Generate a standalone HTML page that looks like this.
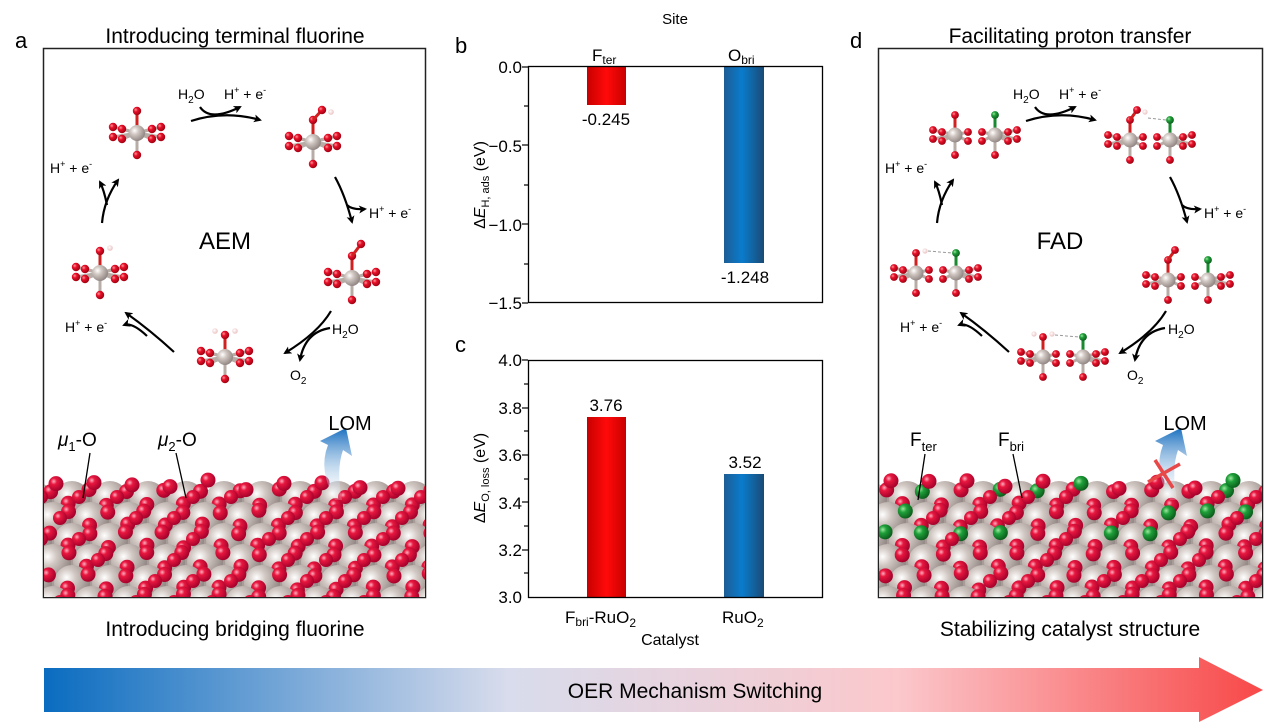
<!DOCTYPE html>
<html><head><meta charset="utf-8">
<style>
html,body{margin:0;padding:0;background:#fff;}
body{width:1268px;height:723px;overflow:hidden;font-family:"Liberation Sans",Arial,sans-serif;}
svg text{font-family:"Liberation Sans",Arial,sans-serif;}
</style></head>
<body>
<svg id="s" width="1268" height="723" viewBox="0 0 1268 723" xmlns="http://www.w3.org/2000/svg">
<defs>
<radialGradient id="gRu" cx="0.35" cy="0.35" r="0.7"><stop offset="0" stop-color="#fff"/><stop offset="0.35" stop-color="#d2c8c3"/><stop offset="1" stop-color="#8e8380"/></radialGradient>
<radialGradient id="gO" cx="0.35" cy="0.35" r="0.7"><stop offset="0" stop-color="#ff9a9a"/><stop offset="0.35" stop-color="#e8102a"/><stop offset="1" stop-color="#9a0010"/></radialGradient>
<radialGradient id="gOs" cx="0.35" cy="0.35" r="0.7"><stop offset="0" stop-color="#ffb0c0"/><stop offset="0.3" stop-color="#e8173f"/><stop offset="1" stop-color="#a0002a"/></radialGradient>
<radialGradient id="gF" cx="0.35" cy="0.35" r="0.7"><stop offset="0" stop-color="#9fe8a0"/><stop offset="0.35" stop-color="#1fa03a"/><stop offset="1" stop-color="#0a5a1a"/></radialGradient>
<radialGradient id="gH" cx="0.4" cy="0.4" r="0.7"><stop offset="0" stop-color="#fff"/><stop offset="1" stop-color="#e8b8b8"/></radialGradient>
<linearGradient id="gRed" x1="0" x2="1"><stop offset="0" stop-color="#c80000"/><stop offset="0.5" stop-color="#ff0a0a"/><stop offset="1" stop-color="#c80000"/></linearGradient>
<linearGradient id="gBlue" x1="0" x2="1"><stop offset="0" stop-color="#1d5d95"/><stop offset="0.45" stop-color="#0a7ccc"/><stop offset="1" stop-color="#1a4a75"/></linearGradient>
<linearGradient id="gArr" x1="0" x2="1"><stop offset="0" stop-color="#0a6cc0"/><stop offset="0.38" stop-color="#d8dcec"/><stop offset="0.7" stop-color="#fbc8cc"/><stop offset="1" stop-color="#f84848"/></linearGradient>
<linearGradient id="gLom" x1="0" y1="1" x2="0" y2="0"><stop offset="0" stop-color="#fff" stop-opacity="0.2"/><stop offset="1" stop-color="#1a70c0"/></linearGradient>
<marker id="ah" markerWidth="8" markerHeight="8" refX="6" refY="4" orient="auto" markerUnits="userSpaceOnUse"><path d="M0,0 L8,4 L0,8 L2,4z" fill="#000"/></marker>
<clipPath id="cA"><rect x="44" y="460" width="381" height="137"/></clipPath>
<clipPath id="cD"><rect x="879" y="460" width="383" height="137"/></clipPath>
</defs>

<text x="15" y="48" font-size="22">a</text>
<text x="235" y="43" font-size="21" text-anchor="middle">Introducing terminal fluorine</text>
<text x="850" y="48" font-size="22">d</text>
<text x="1070" y="43" font-size="21" text-anchor="middle">Facilitating proton transfer</text>
<text x="675" y="24" font-size="15" text-anchor="middle">Site</text>
<text x="455" y="53" font-size="22">b</text>
<text x="455" y="352" font-size="22">c</text>

<rect x="43.5" y="48.5" width="382" height="549" fill="none" stroke="#222" stroke-width="1.5"/>
<rect x="878.5" y="48.5" width="384" height="549" fill="none" stroke="#222" stroke-width="1.5"/>

<g id="surfA" clip-path="url(#cA)"></g>
<g id="surfD" clip-path="url(#cD)"></g>
<g id="mols"></g>

<g font-size="14">
<text x="178" y="99">H<tspan font-size="10" dy="4">2</tspan><tspan dy="-4">O</tspan></text>
<text x="224" y="99">H<tspan font-size="9" dy="-6">+</tspan><tspan dy="6"> + e</tspan><tspan font-size="9" dy="-6">-</tspan></text>
<text x="50" y="173">H<tspan font-size="9" dy="-6">+</tspan><tspan dy="6"> + e</tspan><tspan font-size="9" dy="-6">-</tspan></text>
<text x="369" y="218">H<tspan font-size="9" dy="-6">+</tspan><tspan dy="6"> + e</tspan><tspan font-size="9" dy="-6">-</tspan></text>
<text x="65" y="332">H<tspan font-size="9" dy="-6">+</tspan><tspan dy="6"> + e</tspan><tspan font-size="9" dy="-6">-</tspan></text>
<text x="332" y="334">H<tspan font-size="10" dy="4">2</tspan><tspan dy="-4">O</tspan></text>
<text x="290" y="380">O<tspan font-size="10" dy="4">2</tspan></text>
</g>
<text x="225" y="249" font-size="24" text-anchor="middle">AEM</text>

<g font-size="14">
<text x="1013" y="99">H<tspan font-size="10" dy="4">2</tspan><tspan dy="-4">O</tspan></text>
<text x="1059" y="99">H<tspan font-size="9" dy="-6">+</tspan><tspan dy="6"> + e</tspan><tspan font-size="9" dy="-6">-</tspan></text>
<text x="885" y="173">H<tspan font-size="9" dy="-6">+</tspan><tspan dy="6"> + e</tspan><tspan font-size="9" dy="-6">-</tspan></text>
<text x="1204" y="218">H<tspan font-size="9" dy="-6">+</tspan><tspan dy="6"> + e</tspan><tspan font-size="9" dy="-6">-</tspan></text>
<text x="900" y="332">H<tspan font-size="9" dy="-6">+</tspan><tspan dy="6"> + e</tspan><tspan font-size="9" dy="-6">-</tspan></text>
<text x="1168" y="334">H<tspan font-size="10" dy="4">2</tspan><tspan dy="-4">O</tspan></text>
<text x="1127" y="380">O<tspan font-size="10" dy="4">2</tspan></text>
</g>
<text x="1060" y="249" font-size="24" text-anchor="middle">FAD</text>

<g fill="none" stroke="#000" stroke-width="2.2">
<path d="M191,121 Q225,110 260,120" marker-end="url(#ah)"/>
<path d="M200,107 Q210,122 240,107" marker-end="url(#ah)"/>
<path d="M335,177 Q345,195 352,222" marker-end="url(#ah)"/>
<path d="M347,205 Q352,210 365,209" marker-end="url(#ah)"/>
<path d="M331,311 Q318,333 285,353" marker-end="url(#ah)"/>
<path d="M330,328 Q305,332 300,360" marker-end="url(#ah)"/>
<path d="M174,352 Q150,330 126,313" marker-end="url(#ah)"/>
<path d="M147,336 Q132,322 124,325" marker-end="url(#ah)"/>
<path d="M102,223 Q104,200 118,180" marker-end="url(#ah)"/>
<path d="M107,205 Q104,190 100,182" marker-end="url(#ah)"/>
</g>
<g fill="none" stroke="#000" stroke-width="2.2">
<path d="M1026,121 Q1060,110 1095,120" marker-end="url(#ah)"/>
<path d="M1035,107 Q1045,122 1075,107" marker-end="url(#ah)"/>
<path d="M1170,177 Q1180,195 1187,222" marker-end="url(#ah)"/>
<path d="M1182,205 Q1187,210 1200,209" marker-end="url(#ah)"/>
<path d="M1166,311 Q1153,333 1120,353" marker-end="url(#ah)"/>
<path d="M1165,328 Q1140,332 1135,360" marker-end="url(#ah)"/>
<path d="M1009,352 Q985,330 961,313" marker-end="url(#ah)"/>
<path d="M982,336 Q967,322 959,325" marker-end="url(#ah)"/>
<path d="M937,223 Q939,200 953,180" marker-end="url(#ah)"/>
<path d="M942,205 Q939,190 935,182" marker-end="url(#ah)"/>
</g>

<g id="over">
<path d="M335,500 Q318,470 328,445 L320,441 L346,428 L352,456 L343,450 Q336,470 342,500z" fill="url(#gLom)"/>
<text x="350" y="430" font-size="20" text-anchor="middle">LOM</text>
<path d="M1170,500 Q1153,470 1163,445 L1155,441 L1181,428 L1187,456 L1178,450 Q1171,470 1177,500z" fill="url(#gLom)"/>
<text x="1185" y="430" font-size="20" text-anchor="middle">LOM</text>
<g stroke="#e84848" stroke-width="3.5"><line x1="1155" y1="460" x2="1173" y2="488"/><line x1="1148" y1="482" x2="1180" y2="464"/></g>
</g>

<g font-size="19">
<text x="58" y="446"><tspan font-style="italic">μ</tspan><tspan font-size="13" dy="5">1</tspan><tspan dy="-5">-O</tspan></text>
<text x="158" y="446"><tspan font-style="italic">μ</tspan><tspan font-size="13" dy="5">2</tspan><tspan dy="-5">-O</tspan></text>
<text x="910" y="446">F<tspan font-size="13" dy="5">ter</tspan></text>
<text x="998" y="446">F<tspan font-size="13" dy="5">bri</tspan></text>
</g>
<g stroke="#000" stroke-width="1.3">
<line x1="90" y1="453" x2="83" y2="498"/><line x1="176" y1="453" x2="186" y2="498"/>
<line x1="925" y1="454" x2="918" y2="500"/><line x1="1013" y1="454" x2="1022" y2="498"/>
</g>

<rect x="587" y="67" width="39" height="38" fill="url(#gRed)"/>
<rect x="724" y="67" width="40" height="196" fill="url(#gBlue)"/>
<rect x="528.5" y="66.5" width="294" height="236" fill="none" stroke="#000" stroke-width="1.3"/>
<g font-size="17" text-anchor="end">
<text x="522" y="73">0.0</text><text x="522" y="152">−0.5</text><text x="522" y="231">−1.0</text><text x="522" y="309">−1.5</text>
</g>
<g stroke="#000" stroke-width="1.2"><line x1="522" y1="67" x2="528" y2="67"/><line x1="522" y1="145" x2="528" y2="145"/><line x1="522" y1="224" x2="528" y2="224"/><line x1="522" y1="303" x2="528" y2="303"/><line x1="524" y1="106" x2="528" y2="106"/><line x1="524" y1="185" x2="528" y2="185"/><line x1="524" y1="264" x2="528" y2="264"/></g>
<text x="606" y="125" font-size="17" text-anchor="middle">-0.245</text>
<text x="745" y="283" font-size="17" text-anchor="middle">-1.248</text>
<text x="592" y="61" font-size="17">F<tspan font-size="12" dy="3">ter</tspan></text>
<text x="728" y="61" font-size="17">O<tspan font-size="12" dy="3">bri</tspan></text>
<text transform="translate(485,185) rotate(-90)" font-size="16" text-anchor="middle">Δ<tspan font-style="italic">E</tspan><tspan font-size="11" dy="4">H, ads</tspan><tspan dy="-4"> (eV)</tspan></text>

<rect x="587" y="417" width="39" height="180" fill="url(#gRed)"/>
<rect x="724" y="474" width="40" height="123" fill="url(#gBlue)"/>
<rect x="528.5" y="360.5" width="294" height="237" fill="none" stroke="#000" stroke-width="1.3"/>
<g font-size="17" text-anchor="end">
<text x="522" y="366">4.0</text><text x="522" y="414">3.8</text><text x="522" y="461">3.6</text><text x="522" y="509">3.4</text><text x="522" y="556">3.2</text><text x="522" y="603">3.0</text>
</g>
<g stroke="#000" stroke-width="1.2"><line x1="522" y1="360" x2="528" y2="360"/><line x1="522" y1="408" x2="528" y2="408"/><line x1="522" y1="455" x2="528" y2="455"/><line x1="522" y1="502" x2="528" y2="502"/><line x1="522" y1="550" x2="528" y2="550"/><line x1="524" y1="384" x2="528" y2="384"/><line x1="524" y1="431" x2="528" y2="431"/><line x1="524" y1="479" x2="528" y2="479"/><line x1="524" y1="526" x2="528" y2="526"/><line x1="524" y1="573" x2="528" y2="573"/></g>
<text x="606" y="411" font-size="17" text-anchor="middle">3.76</text>
<text x="745" y="468" font-size="17" text-anchor="middle">3.52</text>
<text x="565" y="623" font-size="17">F<tspan font-size="12" dy="3">bri</tspan><tspan dy="-3">-RuO</tspan><tspan font-size="12" dy="4">2</tspan></text>
<text x="722" y="623" font-size="17">RuO<tspan font-size="12" dy="4">2</tspan></text>
<text x="670" y="645" font-size="16" text-anchor="middle">Catalyst</text>
<text transform="translate(485,478) rotate(-90)" font-size="16" text-anchor="middle">Δ<tspan font-style="italic">E</tspan><tspan font-size="11" dy="4">O, loss</tspan><tspan dy="-4"> (eV)</tspan></text>

<text x="235" y="636" font-size="21" text-anchor="middle">Introducing bridging fluorine</text>
<text x="1070" y="636" font-size="21" text-anchor="middle">Stabilizing catalyst structure</text>

<path d="M44,668 L1199,668 L1199,657 L1263,690 L1199,722 L1199,712 L44,712z" fill="url(#gArr)"/>
<text x="695" y="698" font-size="21" text-anchor="middle">OER Mechanism Switching</text>
</svg>
<script>
var NS="http://www.w3.org/2000/svg";
function el(p,t,a){var e=document.createElementNS(NS,t);for(var k in a)e.setAttribute(k,a[k]);p.appendChild(e);return e;}
var M=document.getElementById("mols");
function bond(x1,y1,x2,y2,c){el(M,"line",{x1:x1,y1:y1,x2:x2,y2:y2,stroke:c||"#b8aca6","stroke-width":3});}
function at(x,y,r,f){el(M,"circle",{cx:x,cy:y,r:r,fill:"url(#"+f+")"});}
var RO=4.2,RR=8;
function single(x,y,ads){
  var Os=[[0,22],[-24,-6],[-24,4],[-15,-4],[-15,6],[24,-6],[24,4],[15,-4],[15,6]];
  Os.forEach(function(o){bond(x,y,x+o[0],y+o[1]);});
  bond(x,y,x,y-22,"#d02020");
  at(x,y,RR,"gRu");
  Os.forEach(function(o){at(x+o[0],y+o[1],RO,"gO");});
  at(x,y-22,RO,"gO");
  if(ads=="OOH"){bond(x,y-22,x+9,y-32,"#d02020");at(x+9,y-32,RO,"gO");at(x+18,y-30,2.8,"gH");}
  if(ads=="OO"){bond(x,y-22,x+9,y-34,"#d02020");at(x+9,y-34,RO,"gO");}
  if(ads=="OH"){at(x+10,y-25,2.8,"gH");}
  if(ads=="H2O"){at(x-10,y-26,2.8,"gH");at(x+10,y-26,2.8,"gH");}
}
single(137,133,"");
single(313,142,"OOH");
single(352,278,"OO");
single(225,357,"H2O");
single(100,273,"OH");
function dbl(x,y,ads,Fdash){
  var x2=x+40;
  [x,x2].forEach(function(cx,i){
    var Os=[[0,20]];
    if(i==0){Os.push([-22,-5],[-22,4],[-13,-3],[-13,6],[13,-3],[13,6]);}
    else{Os.push([22,-5],[22,4],[13,-3],[13,6],[-13,-3],[-13,6]);}
    Os.forEach(function(o){bond(cx,y,cx+o[0],y+o[1]);});
    bond(cx,y,cx,y-20,i==0?"#d02020":"#1a8a30");
    at(cx,y,7.5,"gRu");
    Os.forEach(function(o){at(cx+o[0],y+o[1],3.9,"gO");});
    at(cx,y-20,3.9,i==0?"gO":"gF");
  });
  if(ads=="OOH"){bond(x,y-20,x+7,y-30,"#d02020");at(x+7,y-30,3.9,"gO");at(x+15,y-28,2.6,"gH");}
  if(ads=="OO"){bond(x,y-20,x+7,y-30,"#d02020");at(x+7,y-30,3.9,"gO");}
  if(ads=="OH"){at(x+9,y-22,2.6,"gH");}
  if(ads=="H2O"){at(x-9,y-23,2.6,"gH");at(x+9,y-23,2.6,"gH");}
  if(Fdash){el(M,"line",{x1:Fdash,y1:y-22,x2:x2-4,y2:y-20,stroke:"#999","stroke-width":1,"stroke-dasharray":"3,2"});}
}
dbl(955,135,"");
dbl(1130,140,"OOH",1148);
dbl(1168,280,"OO");
dbl(1043,357,"H2O",1055);
dbl(916,273,"OH",928);
function surf(id,x0,x1,green){
  var g=document.getElementById(id);
  var seed=11;function rnd(){seed=(seed*9301+49297)%233280;return seed/233280;}
  el(g,"rect",{x:x0,y:490,width:x1-x0,height:110,fill:"#a89c98"});
  for(var row=0;row<6;row++){
    var y=495+row*21;
    for(var x=x0-10+(row%2)*19;x<x1+20;x+=38){
      el(g,"circle",{cx:x,cy:y+4,r:18,fill:"url(#gRu)"});
    }
    for(var x=x0+6+(row%2)*19;x<x1+20;x+=38){
      var f="gOs";
      if(green && row<3 && rnd()<0.45) f="gF";
      el(g,"circle",{cx:x+rnd()*4-2,cy:y-6+rnd()*3,r:7.5,fill:"url(#"+f+")"});
      el(g,"circle",{cx:x+19+rnd()*4-2,cy:y+8+rnd()*3,r:7.5,fill:"url(#gOs)"});
      if(rnd()<0.5) el(g,"circle",{cx:x-9,cy:y+2,r:7,fill:"url(#gOs)"});
    }
  }
  for(var x=x0+12;x<x1;x+=38){
    el(g,"circle",{cx:x,cy:480+rnd()*10,r:7.5,fill:"url(#"+(green&&rnd()<0.5?"gF":"gOs")+")"});
  }
}
surf("surfA",44,425,false);
surf("surfD",879,1262,true);
</script>
</body></html>
